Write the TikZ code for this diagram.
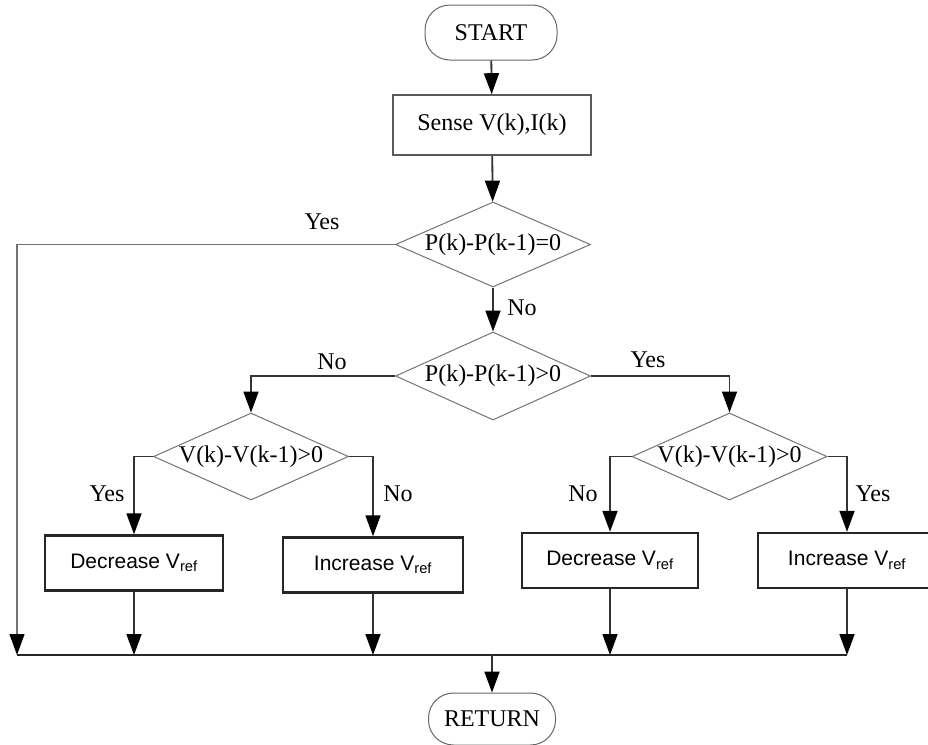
\documentclass[tikz,border=0pt]{standalone}
\usepackage{fontspec}
\setmainfont{Liberation Serif}
\newfontfamily\arialf{Liberation Sans}
\usetikzlibrary{shapes.geometric,arrows.meta}
\tikzset{
  serif/.style={font=\fontsize{24}{28}\selectfont},
  term/.style={draw=black!60, line width=1pt, rounded corners=25pt, serif, inner sep=0pt},
  sensebox/.style={draw=black!65, line width=1.6pt, serif, inner sep=0pt, minimum width=198pt, minimum height=60pt},
  dec/.style={draw=black!55, line width=1pt, diamond, inner sep=0pt, minimum width=195pt, minimum height=86pt},
  dtext/.style={serif, inner sep=0pt},
  vbox/.style={draw=black!85, line width=2.4pt, inner sep=0pt, minimum height=55pt, font=\arialf\fontsize{21}{25}\selectfont},
  tip/.style={-{Triangle[length=21pt,width=15pt,fill=black,color=black]}},
  arr/.style={draw=black!80, line width=1.8pt, tip},
  thinarr/.style={draw=black!55, line width=1.2pt, tip},
  busline/.style={draw=black!85, line width=2.6pt},
  lab/.style={serif, inner sep=0pt}
}
\begin{document}
\begin{tikzpicture}[x=1pt,y=-1pt]
\useasboundingbox (0,0) rectangle (928,744);

\node[term, minimum width=132pt, minimum height=55pt] (start) at (491,32.5) {START};
\node[sensebox] (sense) at (492,125) {Sense V(k),I(k)};
\node[dec, minimum height=85pt, label={[dtext,name=d1t]center:P(k)-P(k-1)=0}] (d1) at (493,244.5) {};
\node[dec, minimum height=88pt, label={[dtext,name=d2t]center:P(k)-P(k-1)>0}] (d2) at (493,376) {};
\node[dec, minimum height=87pt, label={[dtext,name=d3t]center:V(k)-V(k-1)>0}] (d3) at (251,456.5) {};
\node[dec, minimum height=87pt, label={[dtext,name=d4t]center:V(k)-V(k-1)>0}] (d4) at (729.5,456.5) {};

\node[vbox, minimum width=178pt] (b1) at (134,563) {Decrease V\textsubscript{ref}};
\node[vbox, minimum width=180pt] (b2) at (373,565) {Increase V\textsubscript{ref}};
\node[vbox, minimum width=176pt] (b3) at (610,560.5) {Decrease V\textsubscript{ref}};
\node[vbox, minimum width=178pt] (b4) at (847,560.5) {Increase V\textsubscript{ref}};

\node[term, minimum width=127pt, minimum height=52pt] (ret) at (492,719) {RETURN};

\coordinate (lb) at (17,655);
\coordinate (rb) at (848,655);

% main flow
\draw[arr] (start) -- (sense);
\draw[arr] (sense) -- (d1);
\draw[arr] (d1) -- (d2);
\draw[thinarr] (d1.west) -| (lb);
\draw[arr] (d2.west) -| (d3.north);
\draw[arr] (d2.east) -| (d4.north);
\draw[arr] (d3.west) -| (b1.north);
\draw[arr] (d3.east) -| (b2.north);
\draw[arr] (d4.west) -| (b3.north);
\draw[arr] (d4.east) -| (b4.north);

% to bus
\draw[arr] (b1.south) -- (b1.south |- lb);
\draw[arr] (b2.south) -- (b2.south |- lb);
\draw[arr] (b3.south) -- (b3.south |- lb);
\draw[arr] (b4.south) -- (b4.south |- lb);
\draw[busline] (lb) -- (b4.south |- rb);
\draw[arr] (ret.north |- lb) -- (ret);

% labels
\node[lab] (l1) at (322,222) {Yes};
\node[lab] (l2) at (522,308) {No};
\node[lab] (l3) at (332,362) {No};
\node[lab] (l4) at (648,360) {Yes};
\node[lab] (l5) at (107,494) {Yes};
\node[lab] (l6) at (398,494) {No};
\node[lab] (l7) at (583,494) {No};
\node[lab] (l8) at (873,494) {Yes};
\end{tikzpicture}
\end{document}
